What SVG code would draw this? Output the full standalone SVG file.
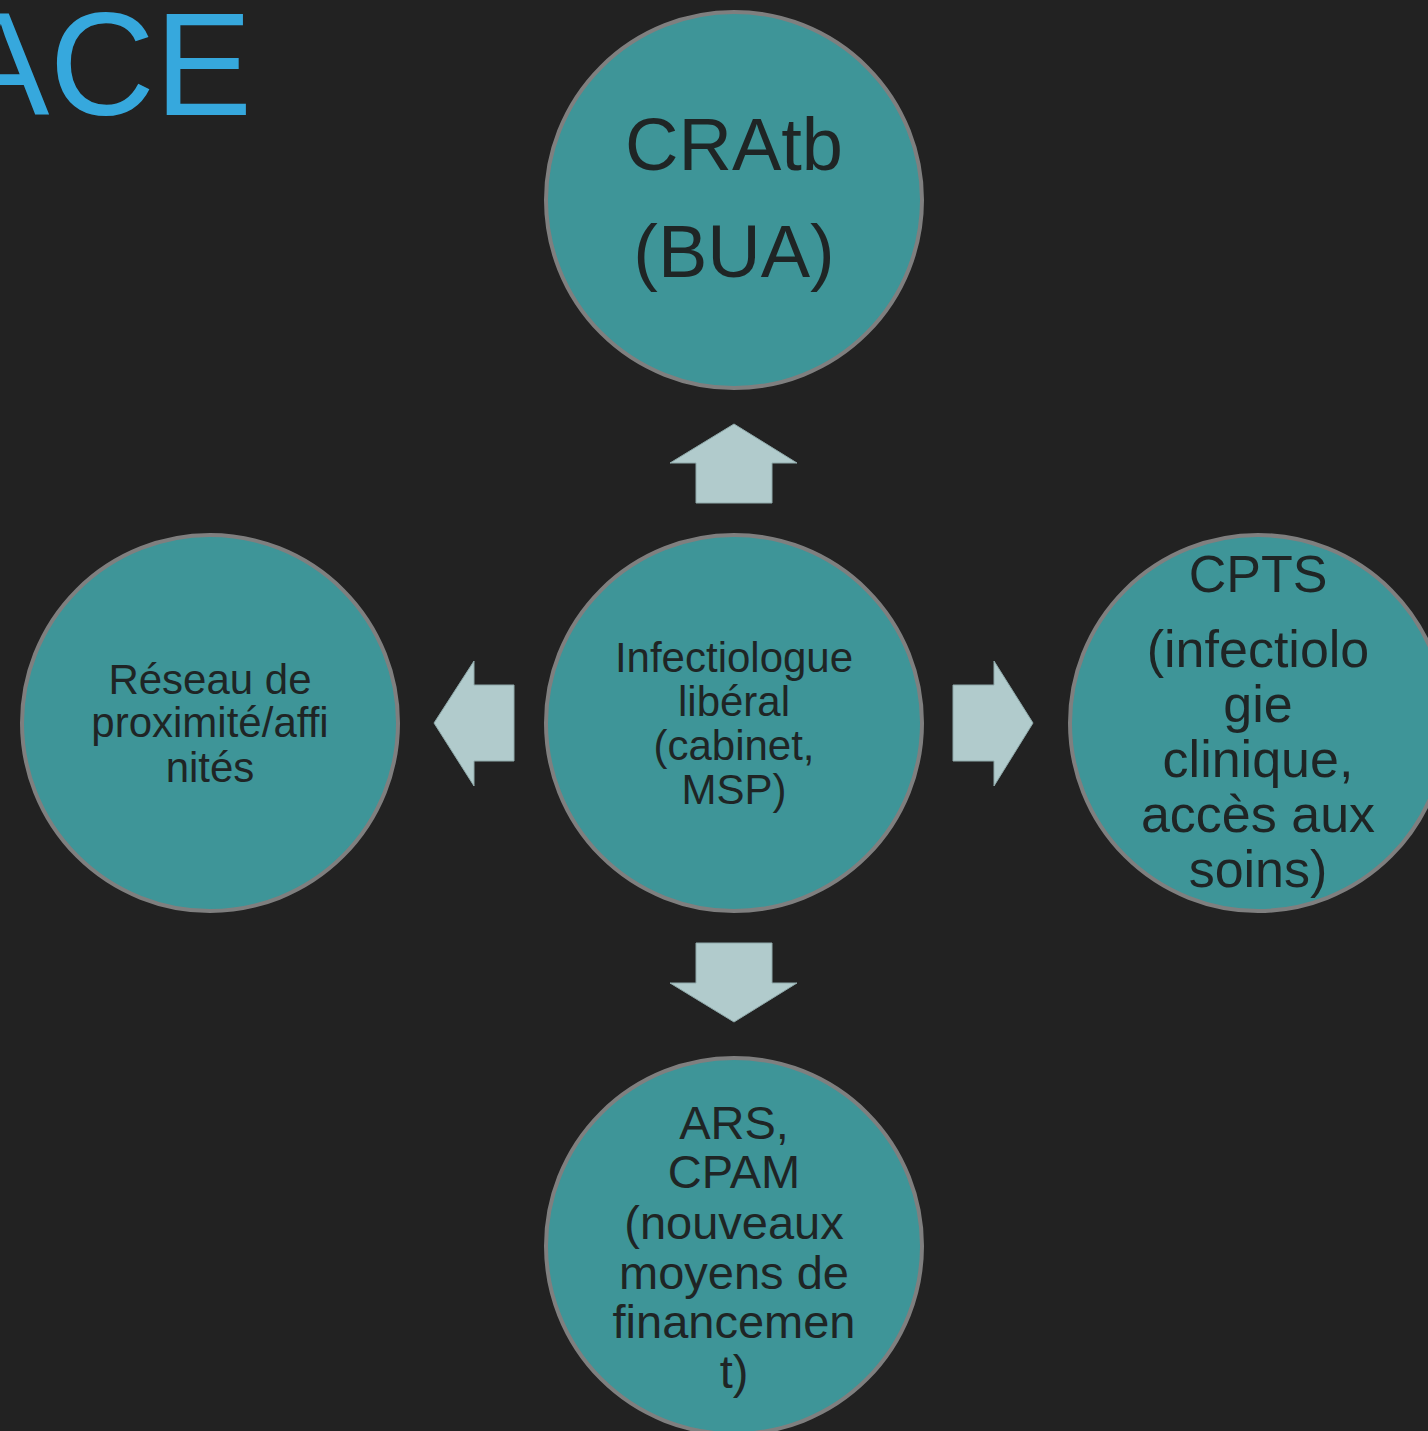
<svg xmlns="http://www.w3.org/2000/svg" width="1428" height="1431" viewBox="0 0 1428 1431">
<style>
.node circle{fill:#3e9598;stroke:#7f7f7f;stroke-width:4}
.node text{font-family:"Liberation Sans",Arial,sans-serif;fill:#1f2525;text-anchor:middle}
.arr{fill:#b1cbcc;stroke:#8fa9aa;stroke-width:1}
.title{font-family:"Liberation Sans",Arial,sans-serif;fill:#36a8dd;font-size:146px}
</style>
<rect width="1428" height="1431" fill="#222222"/>
<text class="title" x="-48" y="115">ACE</text>
<g id="connectors">
<polygon class="arr" points="734,424 797,463 772,463 772,503 696,503 696,463 670,463"/>
<polygon class="arr" points="734,1022 797,983 772,983 772,943 696,943 696,983 670,983"/>
<polygon class="arr" points="434,723 474,661 474,685 514,685 514,761 474,761 474,786"/>
<polygon class="arr" points="1033,723 994,661 994,685 953,685 953,761 994,761 994,786"/>
</g>
<g id="node-top" class="node">
<circle cx="734" cy="200" r="188"/>
<text font-size="74"><tspan x="734" y="170">CRAtb</tspan><tspan x="734" y="277">(BUA)</tspan></text>
</g>
<g id="node-center" class="node">
<circle cx="734" cy="723" r="188"/>
<text font-size="42"><tspan x="734" y="672">Infectiologue</tspan><tspan x="734" y="716">libéral</tspan><tspan x="734" y="760">(cabinet,</tspan><tspan x="734" y="804">MSP)</tspan></text>
</g>
<g id="node-left" class="node">
<circle cx="210" cy="723" r="188"/>
<text font-size="42"><tspan x="210" y="694">Réseau de</tspan><tspan x="210" y="737">proximité/affi</tspan><tspan x="210" y="782">nités</tspan></text>
</g>
<g id="node-right" class="node">
<circle cx="1258" cy="723" r="188"/>
<text font-size="52"><tspan x="1258" y="592">CPTS</tspan><tspan x="1258" y="667">(infectiolo</tspan><tspan x="1258" y="722">gie</tspan><tspan x="1258" y="777">clinique,</tspan><tspan x="1258" y="832">accès aux</tspan><tspan x="1258" y="887">soins)</tspan></text>
</g>
<g id="node-bottom" class="node">
<circle cx="734" cy="1246" r="188"/>
<text font-size="47"><tspan x="734" y="1139">ARS,</tspan><tspan x="734" y="1188">CPAM</tspan><tspan x="734" y="1239">(nouveaux</tspan><tspan x="734" y="1289">moyens de</tspan><tspan x="734" y="1338">financemen</tspan><tspan x="734" y="1388">t)</tspan></text>
</g>
</svg>
